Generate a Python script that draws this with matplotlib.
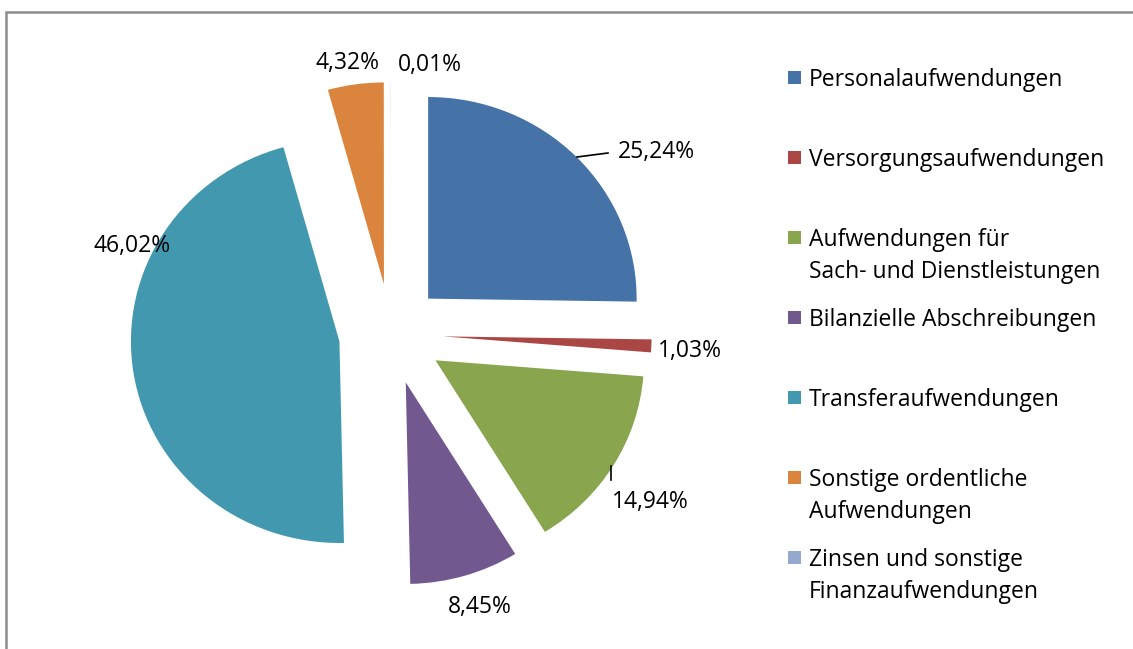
import matplotlib
matplotlib.use("Agg")
import matplotlib.pyplot as plt
from matplotlib.patches import Rectangle

categories = [
    "Personalaufwendungen",
    "Versorgungsaufwendungen",
    "Aufwendungen für\nSach- und Dienstleistungen",
    "Bilanzielle Abschreibungen",
    "Transferaufwendungen",
    "Sonstige ordentliche\nAufwendungen",
    "Zinsen und sonstige\nFinanzaufwendungen",
]
values = [25.24, 1.03, 14.94, 8.45, 46.02, 4.32, 0.01]
colors = ["#4572A7", "#AA4643", "#89A54E", "#71588F", "#4198AF", "#DB843D", "#93A9CF"]

W, H = 1133, 649
DPI = 100
FONT = "Open Sans"
FS = 16.5

fig = plt.figure(figsize=(W / DPI, H / DPI), dpi=DPI)
fig.patch.set_facecolor("white")

# pie center and radii in pixels (from top-left); slightly wider than tall
cx, cy, RX, RY = 391, 334, 208.5, 201.6
ax = fig.add_axes([0, 0, 1, 1])

explode = [0.25] * len(values)
wedges, _ = ax.pie(values, colors=colors, startangle=90, counterclock=False,
                   explode=explode, radius=1.0, center=(0, 0),
                   wedgeprops=dict(linewidth=0))
ax.set_aspect("auto")
ax.set_xlim(-cx / RX, (W - cx) / RX)
ax.set_ylim(-(H - cy) / RY, cy / RY)
ax.axis("off")

def px(x, y):
    return ((x - cx) / RX, (cy - y) / RY)

# data label positions (pixel)
label_pos = [(656, 152), (690, 351), (650, 502), (480, 607), (132, 246), (347, 63), (430, 65)]
for v, (lx, ly) in zip(values, label_pos):
    txt = f"{v:.2f}".replace(".", ",") + "%"
    ax.text(*px(lx, ly), txt, ha="center", va="center", fontsize=FS,
            family=FONT, color="black")

# leader lines
leaders = [((577, 157), (608, 153)), ((611, 466), (611, 480))]
for (x0, y0), (x1, y1) in leaders:
    p0, p1 = px(x0, y0), px(x1, y1)
    ax.plot([p0[0], p1[0]], [p0[1], p1[1]], color="black", lw=1.2)

# legend (manual, Excel-style)
for i, (lab, col) in enumerate(zip(categories, colors)):
    y0 = 78 + 80 * i
    ax.add_patch(Rectangle(px(788, y0 + 6), 13 / RX, 13 / RY, facecolor=col,
                           edgecolor="none"))
    for j, line in enumerate(lab.split("\n")):
        ax.text(*px(809, y0 + 2 + 32 * j), line, ha="left", va="center",
                fontsize=FS, family=FONT, color="black")

# chart border
fig.patches.append(Rectangle((6 / W, -0.05), 1.2, (H - 12) / H + 0.05,
                             transform=fig.transFigure, fill=False,
                             edgecolor="#8c8c8c", linewidth=1.8))

fig.savefig("out.png", dpi=DPI, facecolor="white")
